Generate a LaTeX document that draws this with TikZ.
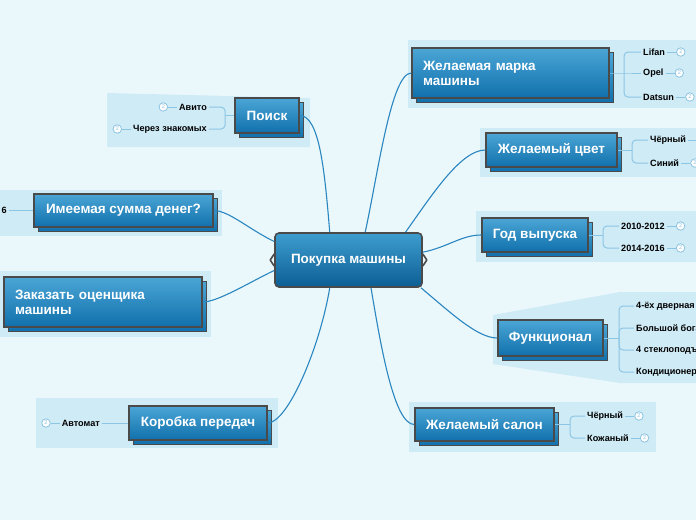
\documentclass[tikz,border=0pt]{standalone}
\usepackage{fontspec}
\setmainfont{Liberation Sans}
\usetikzlibrary{positioning}
\definecolor{bgc}{HTML}{EAF8FB}
\definecolor{grpc}{HTML}{CFEBF6}
\definecolor{bordc}{HTML}{4A4A4A}
\definecolor{tA}{HTML}{4BA6D6}
\definecolor{tB}{HTML}{1170AC}
\definecolor{rA}{HTML}{3E9DCF}
\definecolor{rB}{HTML}{0C5E93}
\definecolor{mainc}{HTML}{2A86C0}
\definecolor{subc}{HTML}{8CC6E4}
\definecolor{markc}{HTML}{8CC3E0}
\newcommand\topicbox[7][]{%
  \path[shadowbox] (#3-#5/2+4.5,#4-#6/2+4.5) rectangle (#3+#5/2+4.5,#4+#6/2+4.5);
  \node[topic,minimum width=#5,minimum height=#6,#1] (#2) at (#3,#4) {#7};
}
\tikzset{
  topic/.style={draw=bordc, line width=1.4pt, top color=tA, bottom color=tB, text=white,
    font=\fontsize{13.5}{15}\selectfont\bfseries, inner sep=0pt, align=center},
  shadowbox/.style={draw=bordc, line width=1.4pt, top color=tA, bottom color=tB},
  rootbox/.style={draw=bordc, line width=1.6pt, rounded corners=4pt, top color=rA, bottom color=rB,
    text=white, font=\fontsize{13.5}{15}\selectfont\bfseries, minimum width=147, minimum height=54, inner sep=0pt},
  leaf/.style={font=\fontsize{9.1}{10}\selectfont\bfseries, inner sep=2pt, text=black},
  badge/.style={circle, draw=markc, fill=white, line width=0.8pt, inner sep=0pt, minimum size=8.5pt,
    font=\fontsize{5.5}{6}\selectfont, text=markc},
  subline/.style={draw=subc, line width=1pt},
  rsub/.style={draw=subc, line width=1pt, rounded corners=4pt},
  mainline/.style={draw=mainc, line width=1.1pt},
  grp/.style={fill=grpc}
}
\begin{document}
\begin{tikzpicture}[x=1pt,y=-1pt]
\useasboundingbox (0,0) rectangle (696,520);
\clip (0,0) rectangle (696,520);
\fill[bgc] (0,0) rectangle (696,520);
% group backgrounds
\fill[grp] (408,40) rectangle (696,108);
\fill[grp] (480,128) rectangle (696,177);
\fill[grp] (476,211) rectangle (696,262);
\fill[grp] (493,315) -- (620,292) -- (696,292) -- (696,383) -- (620,383) -- (493,364) -- cycle;
\fill[grp] (409,402) rectangle (656,452);
\fill[grp] (107,93) -- (310,98) -- (310,147) -- (107,147) -- cycle;
\fill[grp] (0,190) rectangle (222,236);
\fill[grp] (0,271) rectangle (211,337);
\fill[grp] (36,398) rectangle (278,448);
% topics
\topicbox[align=left,text width=175pt]{marka}{510.5}{73}{197}{50}{Желаемая марка\\машины}
\topicbox{cvet}{551.5}{150}{131}{34}{Желаемый цвет}
\topicbox{god}{535}{235}{106}{34}{Год выпуска}
\topicbox{func}{550.5}{338}{105}{36}{Функционал}
\topicbox{salon}{484.5}{424.5}{139}{33}{Желаемый салон}
\topicbox{poisk}{267}{115.5}{64}{35}{Поиск}
\topicbox{summa}{123.5}{210.5}{179}{33}{Имеемая сумма денег?}
\topicbox[align=left,text width=176pt]{zakaz}{103}{302}{198}{50}{Заказать оценщика\\машины}
\topicbox{korobka}{198}{423}{138}{34}{Коробка передач}
% root
\node[rootbox] (root) at (348.5,260) {Покупка машины};
\draw[bordc, line width=1.6pt, line join=round] ([yshift=6pt]root.west) -- ([xshift=-4pt]root.west) -- ([yshift=-6pt]root.west);
\draw[bordc, line width=1.6pt, line join=round] ([yshift=6pt]root.east) -- ([xshift=4pt]root.east) -- ([yshift=-6pt]root.east);
% group 1
\node[leaf, anchor=west] (lifan) at (641,52) {Lifan};
\node[leaf, anchor=west] (opel) at (641,73) {Opel};
\node[leaf, anchor=west] (datsun) at (641,97) {Datsun};
\coordinate (b1) at (624,73);
\draw[subline] (marka.east) -- (b1) -- (opel.west);
\draw[rsub] (b1) |- (lifan.west);
\draw[rsub] (b1) |- (datsun.west);
\node[badge, right=9pt of lifan] (lifanb) {2};
\node[badge, right=9pt of opel] (opelb) {2};
\node[badge, right=9pt of datsun] (datsunb) {2};
\draw[subline] (lifan.east) -- (lifanb.west);
\draw[subline] (opel.east) -- (opelb.west);
\draw[subline] (datsun.east) -- (datsunb.west);
% group 2
\node[leaf, anchor=west] (black1) at (648,140) {Чёрный};
\node[leaf, anchor=west] (blue1) at (648,163) {Синий};
\coordinate (b2) at (632,150);
\draw[subline] (cvet.east) -- (b2);
\draw[rsub] (b2) |- (black1.west);
\draw[rsub] (b2) |- (blue1.west);
\node[badge, right=9pt of black1] (black1b) {2};
\node[badge, right=9pt of blue1] (blue1b) {2};
\draw[subline] (black1.east) -- (black1b.west);
\draw[subline] (blue1.east) -- (blue1b.west);
% group 3
\node[leaf, anchor=west] (y1) at (619,226) {2010-2012};
\node[leaf, anchor=west] (y2) at (619,248) {2014-2016};
\coordinate (b3) at (603,235);
\draw[subline] (god.east) -- (b3);
\draw[rsub] (b3) |- (y1.west);
\draw[rsub] (b3) |- (y2.west);
\node[badge, right=9pt of y1] (y1b) {2};
\node[badge, right=9pt of y2] (y2b) {2};
\draw[subline] (y1.east) -- (y1b.west);
\draw[subline] (y2.east) -- (y2b.west);
% group 4
\node[leaf, anchor=west] (f1) at (634,306) {4-ёх дверная};
\node[leaf, anchor=west] (f2) at (634,328) {Большой богажник};
\node[leaf, anchor=west] (f3) at (634,350) {4 стеклоподъёмника};
\node[leaf, anchor=west] (f4) at (634,372) {Кондиционер};
\coordinate (b4) at (619,338);
\draw[subline] (func.east) -- (b4);
\draw[rsub] (b4) |- (f1.west);
\draw[rsub] (b4) |- (f2.west);
\draw[rsub] (b4) |- (f3.west);
\draw[rsub] (b4) |- (f4.west);
% group 5
\node[leaf, anchor=west] (s1) at (585,416) {Чёрный};
\node[leaf, anchor=west] (s2) at (585,438) {Кожаный};
\coordinate (b5) at (570,424.5);
\draw[subline] (salon.east) -- (b5);
\draw[rsub] (b5) |- (s1.west);
\draw[rsub] (b5) |- (s2.west);
\node[badge, right=9pt of s1] (s1b) {2};
\node[badge, right=9pt of s2] (s2b) {2};
\draw[subline] (s1.east) -- (s1b.west);
\draw[subline] (s2.east) -- (s2b.west);
% group 6
\node[leaf, anchor=east] (avito) at (209,107) {Авито};
\node[leaf, anchor=east] (znak) at (209,129) {Через знакомых};
\coordinate (b6) at (225,115.5);
\draw[subline] (poisk.west) -- (b6);
\draw[rsub] (b6) |- (avito.east);
\draw[rsub] (b6) |- (znak.east);
\node[badge, left=9pt of avito] (avitob) {2};
\node[badge, left=9pt of znak] (znakb) {2};
\draw[subline] (avito.west) -- (avitob.east);
\draw[subline] (znak.west) -- (znakb.east);
% group 7
\node[leaf, anchor=east] (six) at (9,210.5) {6};
\draw[subline] (six.east) -- (summa.west);
% group 9
\node[leaf, anchor=east] (avtomat) at (102,423) {Автомат};
\node[badge, left=9pt of avtomat] (avtomatb) {2};
\draw[subline] (avtomat.east) -- (korobka.west);
\draw[subline] (avtomat.west) -- (avtomatb.east);
% main connectors
\draw[mainline] (root.124) .. controls +(-5,-60) and +(20,0) .. (poisk.east);
\draw[mainline] (root.59) .. controls +(13,-60) and +(-20,0) .. (marka.west);
\draw[mainline] (root.26) .. controls +(25,-35) and +(-25,0) .. (cvet.west);
\draw[mainline] (root.6) .. controls +(25,-5) and +(-20,0) .. (god.west);
\draw[mainline] (root.-21) .. controls +(30,25) and +(-20,0) .. (func.west);
\draw[mainline] (root.-51) .. controls +(10,60) and +(-20,0) .. (salon.west);
\draw[mainline] (root.-124) .. controls +(-10,60) and +(20,0) .. (korobka.east);
\draw[mainline] (root.188) .. controls +(-25,12) and +(15,0) .. (zakaz.east);
\draw[mainline] (root.166) .. controls +(-25,-12) and +(15,0) .. (summa.east);
\end{tikzpicture}
\end{document}
